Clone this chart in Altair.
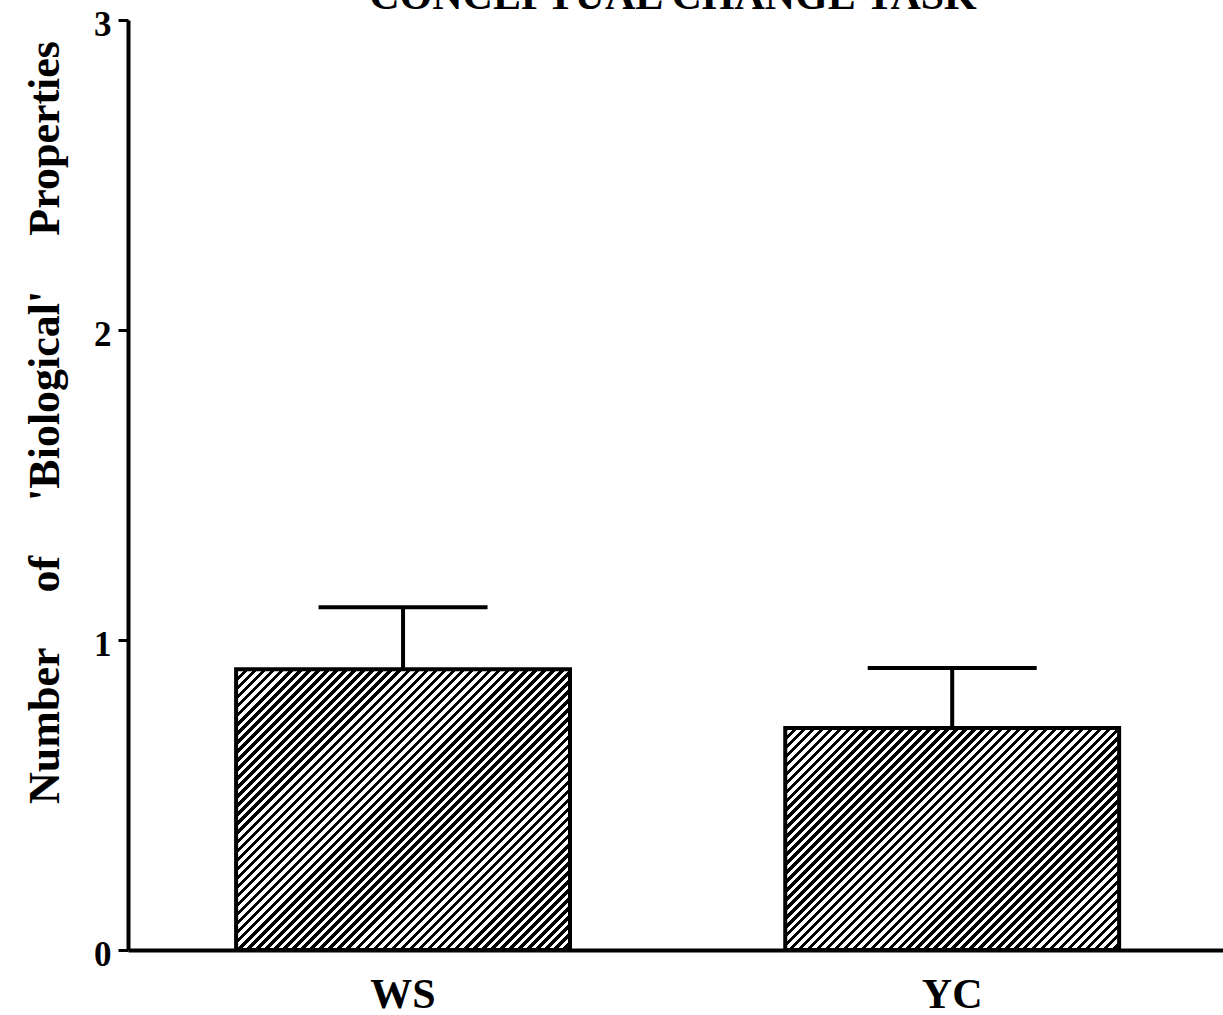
import altair as alt
import pandas as pd

# ---- data ----
groups = ["WS", "YC"]
means = [0.906, 0.716]
upper = [1.106, 0.910]
y_ticks = [0, 1, 2, 3]

title_text = ["CONCEPTUAL CHANGE TASK"]
nb = "\u00a0" * 5
y_title = f"Number{nb}of{nb}'Biological'{nb}Properties"

# ---- layout / style ----
PLOT_W, PLOT_H = 1095, 930
Y_MAX = 3
P_IN, P_OUT, ALIGN = 0.392, 0.193, 0.51
STRIPE = 9.0   # horizontal period of hatch lines, px
DUTY = 0.5
FONT = "Liberation Serif"

df = pd.DataFrame({"group": groups, "mean": means, "upper": upper})

step = PLOT_W / (len(groups) - P_IN + 2 * P_OUT)
bw = step * (1 - P_IN)


def hatch(value):
    w = bw
    h = value / Y_MAX * PLOT_H
    L = w + h
    n = int(round(L / STRIPE))
    stops = []
    for k in range(n):
        a = k / n
        b = (k + DUTY) / n
        stops += [
            alt.GradientStop(color="white", offset=a),
            alt.GradientStop(color="black", offset=a),
            alt.GradientStop(color="black", offset=b),
            alt.GradientStop(color="white", offset=b),
        ]
    stops.append(alt.GradientStop(color="white", offset=1))
    d = w * w + h * h
    return alt.LinearGradient(gradient="linear", stops=stops,
                              x1=0, y1=0, x2=w * L / d, y2=h * L / d)


x_enc = alt.X("group:N", sort=groups,
              scale=alt.Scale(paddingInner=P_IN, paddingOuter=P_OUT, align=ALIGN),
              axis=alt.Axis(title=None, labelAngle=0, ticks=False, tickSize=0,
                            domainWidth=4, domainColor="black",
                            labelFont=FONT, labelFontWeight="bold", labelFontSize=42,
                            labelColor="black", labelPadding=57,
                            labelBaseline="alphabetic"))

y_axis = alt.Axis(values=y_ticks, format="d", grid=False,
                  title=y_title, titleFont=FONT, titleFontSize=44,
                  titleFontWeight="bold", titleColor="black", titleAngle=270,
                  titleX=-70, titleY=402, titleAlign="center",
                  titleBaseline="alphabetic",
                  labelFont=FONT, labelFontSize=35, labelFontWeight="bold",
                  labelColor="black", labelPadding=7, labelFlush=False,
                  labelOffset=4,
                  tickSize=10, tickWidth=3, tickColor="black",
                  domainWidth=4, domainColor="black")
y_scale = alt.Scale(domain=[0, Y_MAX], nice=False)

base = alt.Chart(df)

bar_layers = []
for g, v in zip(groups, means):
    bar_layers.append(
        base.transform_filter(alt.datum.group == g)
        .mark_bar(fill=hatch(v), stroke="black", strokeWidth=4)
        .encode(x=x_enc, y=alt.Y("mean:Q", scale=y_scale, axis=y_axis))
    )

rule = base.mark_rule(color="black", strokeWidth=4).encode(
    x=x_enc, y=alt.Y("mean:Q", scale=y_scale, axis=y_axis), y2="upper:Q")
cap = base.mark_tick(color="black", size=169, thickness=4, opacity=1).encode(
    x=x_enc, y=alt.Y("upper:Q", scale=y_scale, axis=y_axis))

# chart title, partly cut off by the top edge as in the reference
title = alt.Chart(pd.DataFrame({"t": title_text})).mark_text(
    font=FONT, fontSize=42, fontWeight="bold", color="black",
    align="center", baseline="alphabetic"
).encode(text="t:N", x=alt.value(545), y=alt.value(-11))

chart = alt.layer(rule, cap, *bar_layers, title).properties(
    width=PLOT_W, height=PLOT_H,
    autosize=alt.AutoSizeParams(type="none"),
    padding={"left": 128, "top": 20, "right": 0, "bottom": 65},
    background="white",
).configure_view(stroke=None)

chart.save("out.html", embed_options={"renderer": "svg", "actions": False})
